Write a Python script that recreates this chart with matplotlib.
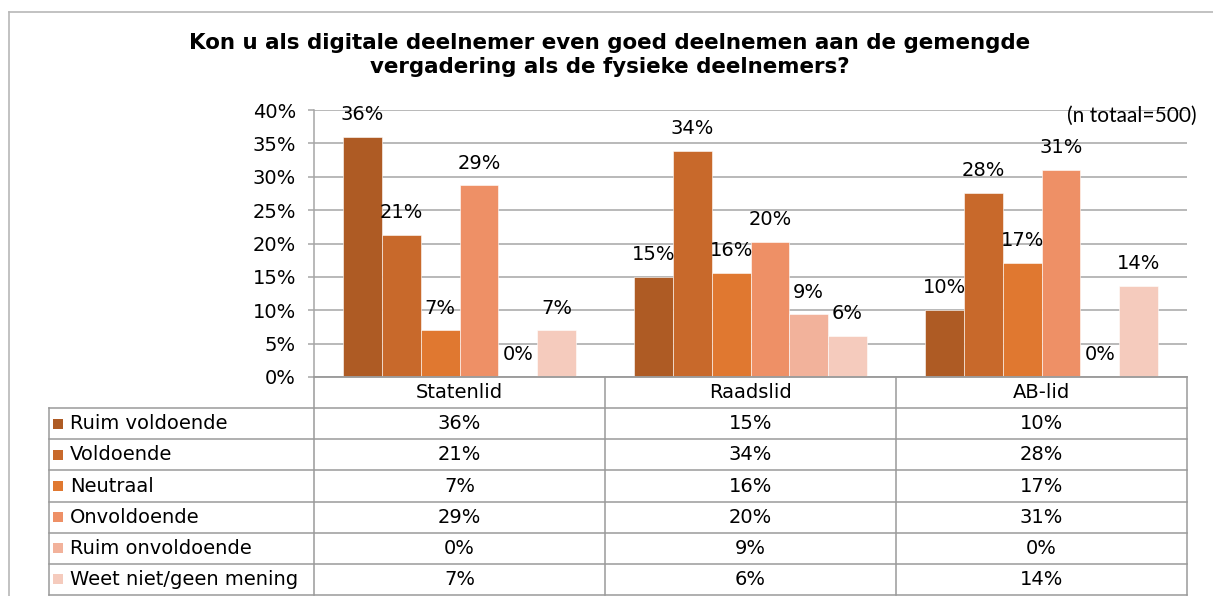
import numpy as np
import matplotlib.pyplot as plt
from matplotlib.lines import Line2D
from matplotlib.ticker import PercentFormatter

categories = ["Statenlid", "Raadslid", "AB-lid"]
series = ["Ruim voldoende", "Voldoende", "Neutraal", "Onvoldoende",
          "Ruim onvoldoende", "Weet niet/geen mening"]

ruim_voldoende = [36.0, 15.0, 10.1]
voldoende = [21.3, 33.9, 27.6]
neutraal = [7.0, 15.6, 17.1]
onvoldoende = [28.7, 20.2, 31.0]
ruim_onvoldoende = [0.0, 9.4, 0.0]
weet_niet = [7.0, 6.2, 13.6]

colors = ["#AE5B24", "#C8692B", "#E07830", "#EE9066", "#F2B29B", "#F5CBBD"]

data = [ruim_voldoende, voldoende, neutraal, onvoldoende, ruim_onvoldoende, weet_niet]

W, H = 1213, 596
fig = plt.figure(figsize=(W / 100, H / 100), dpi=100)
plt.rcParams['font.family'] = ['DejaVu Sans']

grid_col = "#A6A6A6"
line_col = "#9A9A9A"

# pixel layout
ax_l, ax_r, ax_t, ax_b = 314, 1187, 110, 377
tab_l, tab_b = 49, 595
cat_w = (ax_r - ax_l) / 3

ax = fig.add_axes([ax_l / W, (H - ax_b) / H, (ax_r - ax_l) / W, (ax_b - ax_t) / H])
x = np.arange(len(categories))
width = 0.8 / len(series)
for i, (vals, col) in enumerate(zip(data, colors)):
    pos = x + (i - 2.5) * width
    bars = ax.bar(pos, vals, width, color=col, edgecolor="white", linewidth=0.4, zorder=2)
    for b, v in zip(bars, vals):
        ax.annotate(f"{v:.0f}%", (b.get_x() + b.get_width() / 2, v),
                    xytext=(0, 16), textcoords="offset points",
                    ha="center", va="center", fontsize=14)

ax.set_xlim(-0.5, 2.5)
ax.set_ylim(0, 40)
ax.set_yticks(np.arange(0, 41, 5))
ax.yaxis.set_major_formatter(PercentFormatter(decimals=0))
ax.set_xticks([])
ax.grid(axis="y", color=grid_col, linewidth=1.1)
ax.set_axisbelow(True)
for s in ["top", "right"]:
    ax.spines[s].set_visible(False)
for s in ["left", "bottom"]:
    ax.spines[s].set_color(grid_col)
    ax.spines[s].set_linewidth(1.1)
ax.tick_params(axis="y", length=4, width=1.1, color=grid_col, pad=9, labelsize=14)

# data table under the chart
tab = fig.add_axes([tab_l / W, (H - tab_b) / H, (ax_r - tab_l) / W, (tab_b - ax_b) / H])
xl = -0.5 - (ax_l - tab_l) / cat_w
tab.set_xlim(xl, 2.5)
tab.set_ylim(7, 0)
tab.axis("off")

kw = dict(color=line_col, linewidth=1.1, clip_on=False)
tab.plot([-0.5, 2.5], [0, 0], **kw)
for r in range(1, 8):
    tab.plot([xl, 2.5], [r, r], **kw)
tab.plot([xl, xl], [1, 7], **kw)
for c in [-0.5, 0.5, 1.5, 2.5]:
    tab.plot([c, c], [0, 7], **kw)

for i, cat in enumerate(categories):
    tab.text(i, 0.5, cat, ha="center", va="center", fontsize=14)
x_sq = xl + 9.5 / cat_w
x_txt = xl + 21 / cat_w
for r, (name, vals, col) in enumerate(zip(series, data, colors), start=1):
    tab.plot([x_sq], [r + 0.5], marker="s", ms=6.5, color=col, mew=0, clip_on=False)
    tab.text(x_txt, r + 0.5, name, ha="left", va="center", fontsize=14)
    for i, v in enumerate(vals):
        tab.text(i, r + 0.5, f"{v:.0f}%", ha="center", va="center", fontsize=14)

# outer frame
fig.add_artist(Line2D([9 / W, 1], [(H - 12) / H] * 2, color="#B8B8B8", linewidth=1.2))
fig.add_artist(Line2D([9 / W, 9 / W], [0, (H - 12) / H], color="#B8B8B8", linewidth=1.2))

fig.text(610 / W, (H - 55) / H,
         "Kon u als digitale deelnemer even goed deelnemen aan de gemengde\n"
         "vergadering als de fysieke deelnemers?",
         ha="center", va="center", fontsize=15.4, fontweight="bold", linespacing=1.2)
fig.text(1197 / W, (H - 116) / H, "(n totaal=500)", ha="right", va="center",
         family=["Lato", "DejaVu Sans"], fontsize=15)

fig.savefig("out.png", dpi=100)
